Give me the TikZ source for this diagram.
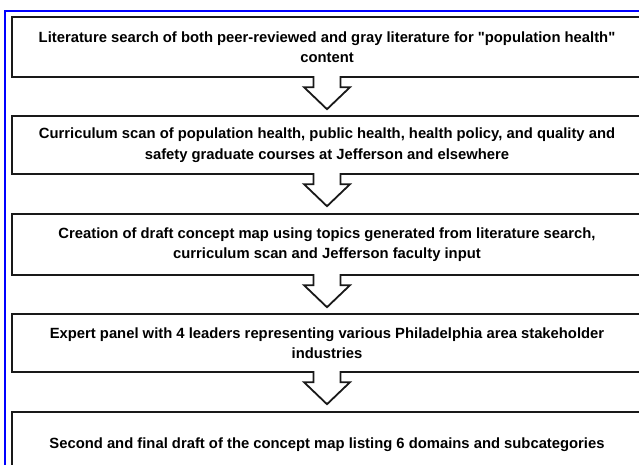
\documentclass[tikz,border=0pt]{standalone}
\usepackage{fontspec}
\setmainfont{Liberation Sans}
\usepackage{tikz}
\tikzset{
    stepbox/.style={rectangle, draw=black!90, line width=2pt, fill=white,
        minimum width=630pt, align=center, inner sep=0pt,
        font=\fontsize{14.8}{20.5}\selectfont\bfseries},
    blockarrow/.style={draw=black!90, fill=white, line width=1.8pt, line join=miter}
}

\begin{document}
\begin{tikzpicture}[x=1pt, y=-1pt]
        \useasboundingbox (0,0) rectangle (639,465);
        \clip (0,0) rectangle (639,465);
        \draw [blue, line width=2pt] (5,11) rectangle (660,490);
        \node (b1) [stepbox, minimum height=60pt] at (327,47) {Literature search of both peer-reviewed and gray literature for \textquotedbl population health\textquotedbl\\content};
        \node (b2) [stepbox, minimum height=58pt] at (327,145) {Curriculum scan of population health, public health, health policy, and quality and\\safety graduate courses at Jefferson and elsewhere};
        \node (b3) [stepbox, minimum height=61pt] at (327,244.5) {Creation of draft concept map using topics generated from literature search,\\curriculum scan and Jefferson faculty input};
        \node (b4) [stepbox, minimum height=58pt] at (327,343) {Expert panel with 4 leaders representing various Philadelphia area stakeholder\\industries};
        \node (b5) [stepbox, minimum height=66pt] at (327,445) {Second and final draft of the concept map listing 6 domains and subcategories};
        \foreach \a in {b1,b2,b3,b4}
                \path [blockarrow] ([shift={(-13.5,-1.8)}]\a.south) -- ++(0,11) -- ++(-9.5,0)
                        -- ++(23,22) -- ++(23,-22) -- ++(-9.5,0) -- ++(0,-11);
\end{tikzpicture}
\end{document}
